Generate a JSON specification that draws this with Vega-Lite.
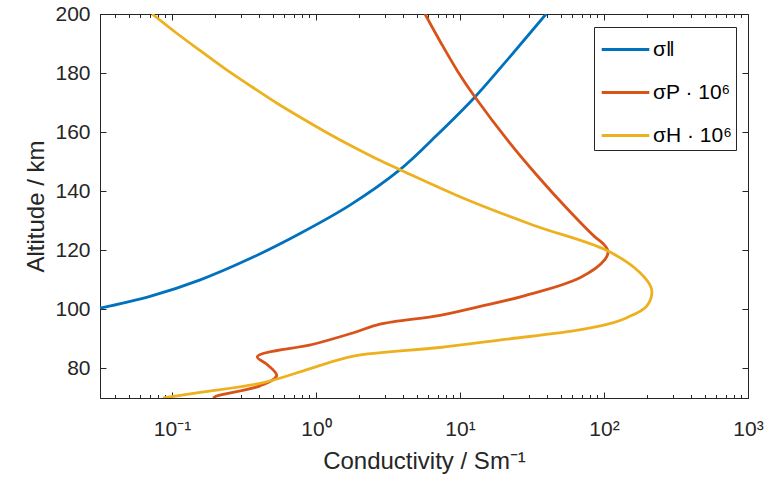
{
  "$schema": "https://vega.github.io/schema/vega-lite/v6.json",
  "width": 648,
  "height": 384,
  "autosize": {"type": "none"},
  "padding": {"left": 100, "top": 14, "right": 24, "bottom": 85},
  "background": "white",
  "config": {
    "font": "Liberation Sans",
    "view": {"stroke": "#262626", "strokeWidth": 1},
    "axis": {
      "domainColor": "#262626",
      "domainWidth": 1,
      "tickColor": "#262626",
      "labelColor": "#262626",
      "titleColor": "#262626",
      "labelFont": "Liberation Sans",
      "titleFont": "Liberation Sans",
      "labelFontSize": 21,
      "titleFontSize": 24,
      "titleFontWeight": "normal",
      "grid": false
    }
  },
  "data": {
    "values": [
      {"s": "σ‖", "i": 0, "x": 0.0316, "alt": 100.4},
      {"s": "σ‖", "i": 1, "x": 0.0703, "alt": 104.4},
      {"s": "σ‖", "i": 2, "x": 0.157, "alt": 110.0},
      {"s": "σ‖", "i": 3, "x": 0.348, "alt": 117.2},
      {"s": "σ‖", "i": 4, "x": 0.774, "alt": 125.7},
      {"s": "σ‖", "i": 5, "x": 1.72, "alt": 135.3},
      {"s": "σ‖", "i": 6, "x": 3.83, "alt": 147.3},
      {"s": "σ‖", "i": 7, "x": 6.92, "alt": 159.0},
      {"s": "σ‖", "i": 8, "x": 12.7, "alt": 171.9},
      {"s": "σ‖", "i": 9, "x": 22.2, "alt": 185.5},
      {"s": "σ‖", "i": 10, "x": 39.6, "alt": 200},

      {"s": "σP · 10⁶", "i": 0, "x": 5.71, "alt": 200},
      {"s": "σP · 10⁶", "i": 1, "x": 7.38, "alt": 190.2},
      {"s": "σP · 10⁶", "i": 2, "x": 9.69, "alt": 180.4},
      {"s": "σP · 10⁶", "i": 3, "x": 12.7, "alt": 171.9},
      {"s": "σP · 10⁶", "i": 4, "x": 22.2, "alt": 156.3},
      {"s": "σP · 10⁶", "i": 5, "x": 34.8, "alt": 145.0},
      {"s": "σP · 10⁶", "i": 6, "x": 56.2, "alt": 133.8},
      {"s": "σP · 10⁶", "i": 7, "x": 85.3, "alt": 124.8},
      {"s": "σP · 10⁶", "i": 8, "x": 98.4, "alt": 122.3},
      {"s": "σP · 10⁶", "i": 9, "x": 106.6, "alt": 119.7},
      {"s": "σP · 10⁶", "i": 10, "x": 101.6, "alt": 116.9},
      {"s": "σP · 10⁶", "i": 11, "x": 68.1, "alt": 110.7},
      {"s": "σP · 10⁶", "i": 12, "x": 27.5, "alt": 104.5},
      {"s": "σP · 10⁶", "i": 13, "x": 13.8, "alt": 101.0},
      {"s": "σP · 10⁶", "i": 14, "x": 7.26, "alt": 98.0},
      {"s": "σP · 10⁶", "i": 15, "x": 2.78, "alt": 95.0},
      {"s": "σP · 10⁶", "i": 16, "x": 1.82, "alt": 92.1},
      {"s": "σP · 10⁶", "i": 17, "x": 0.958, "alt": 88.2},
      {"s": "σP · 10⁶", "i": 18, "x": 0.391, "alt": 84.0},
      {"s": "σP · 10⁶", "i": 19, "x": 0.464, "alt": 81.1},
      {"s": "σP · 10⁶", "i": 20, "x": 0.533, "alt": 77.5},
      {"s": "σP · 10⁶", "i": 21, "x": 0.408, "alt": 74.1},
      {"s": "σP · 10⁶", "i": 22, "x": 0.204, "alt": 70.7},
      {"s": "σP · 10⁶", "i": 23, "x": 0.193, "alt": 70.0},

      {"s": "σH · 10⁶", "i": 0, "x": 0.0727, "alt": 200},
      {"s": "σH · 10⁶", "i": 1, "x": 0.1083, "alt": 193.4},
      {"s": "σH · 10⁶", "i": 2, "x": 0.157, "alt": 187.6},
      {"s": "σH · 10⁶", "i": 3, "x": 0.241, "alt": 181.0},
      {"s": "σH · 10⁶", "i": 4, "x": 0.360, "alt": 175.3},
      {"s": "σH · 10⁶", "i": 5, "x": 0.536, "alt": 169.8},
      {"s": "σH · 10⁶", "i": 6, "x": 0.799, "alt": 164.7},
      {"s": "σH · 10⁶", "i": 7, "x": 1.192, "alt": 159.8},
      {"s": "σH · 10⁶", "i": 8, "x": 1.778, "alt": 155.2},
      {"s": "σH · 10⁶", "i": 9, "x": 2.65, "alt": 150.9},
      {"s": "σH · 10⁶", "i": 10, "x": 3.83, "alt": 147.3},
      {"s": "σH · 10⁶", "i": 11, "x": 11.1, "alt": 137.2},
      {"s": "σH · 10⁶", "i": 12, "x": 32.3, "alt": 128.5},
      {"s": "σH · 10⁶", "i": 13, "x": 105, "alt": 119.9},
      {"s": "σH · 10⁶", "i": 14, "x": 178, "alt": 112.4},
      {"s": "σH · 10⁶", "i": 15, "x": 214, "alt": 106.8},
      {"s": "σH · 10⁶", "i": 16, "x": 198, "alt": 101.1},
      {"s": "σH · 10⁶", "i": 17, "x": 144, "alt": 97.2},
      {"s": "σH · 10⁶", "i": 18, "x": 104.5, "alt": 94.9},
      {"s": "σH · 10⁶", "i": 19, "x": 61.2, "alt": 92.7},
      {"s": "σH · 10⁶", "i": 20, "x": 21.1, "alt": 89.9},
      {"s": "σH · 10⁶", "i": 21, "x": 7.26, "alt": 87.1},
      {"s": "σH · 10⁶", "i": 22, "x": 1.82, "alt": 84.2},
      {"s": "σH · 10⁶", "i": 23, "x": 0.958, "alt": 80.3},
      {"s": "σH · 10⁶", "i": 24, "x": 0.431, "alt": 75.2},
      {"s": "σH · 10⁶", "i": 25, "x": 0.157, "alt": 71.9},
      {"s": "σH · 10⁶", "i": 26, "x": 0.0866, "alt": 70.0}
    ]
  },
  "layer": [
    {
      "mark": {"type": "line", "strokeWidth": 2.8, "interpolate": "catmull-rom", "clip": true},
      "encoding": {
        "x": {
          "field": "x",
          "type": "quantitative",
          "scale": {"type": "log", "domain": [0.0316, 1000], "nice": false},
          "axis": {
            "orient": "bottom",
            "title": "Conductivity / Sm⁻¹",
            "titlePadding": 8,
            "values": [0.04, 0.05, 0.06, 0.07, 0.08, 0.09, 0.1, 0.2, 0.3, 0.4, 0.5, 0.6, 0.7, 0.8, 0.9, 1, 2, 3, 4, 5, 6, 7, 8, 9, 10, 20, 30, 40, 50, 60, 70, 80, 90, 100, 200, 300, 400, 500, 600, 700, 800, 900, 1000],
            "labelExpr": "datum.value == 0.1 ? '10⁻¹' : datum.value == 1 ? '10⁰' : datum.value == 10 ? '10¹' : datum.value == 100 ? '10²' : datum.value == 1000 ? '10³' : ''",
            "labelOverlap": false,
            "labelFlush": false,
            "labelPadding": 26,
            "tickSize": {"condition": {"test": "indexof([0.1, 1, 10, 100, 1000], datum.value) >= 0", "value": -6}, "value": -3.5}
          }
        },
        "y": {
          "field": "alt",
          "type": "quantitative",
          "scale": {"domain": [70, 200], "nice": false, "zero": false},
          "axis": {
            "orient": "left",
            "title": "Altitude / km",
            "titlePadding": 6,
            "values": [80, 100, 120, 140, 160, 180, 200],
            "labelPadding": 16,
            "labelFlush": false,
            "tickSize": -6
          }
        },
        "color": {
          "field": "s",
          "type": "nominal",
          "scale": {"domain": ["σ‖", "σP · 10⁶", "σH · 10⁶"], "range": ["#0072BD", "#D95319", "#EDB120"]},
          "legend": {
            "title": null,
            "orient": "none",
            "legendX": 494,
            "legendY": 13,
            "strokeColor": "#262626",
            "fillColor": "white",
            "padding": 4,
            "symbolOffset": 9,
            "symbolType": "M-1.4,0H1.4",
            "symbolSize": 1156,
            "symbolStrokeWidth": 3,
            "symbolFillColor": "transparent",
            "labelFont": "Liberation Sans",
            "labelFontSize": 21,
            "labelColor": "#000000",
            "labelOffset": 9,
            "rowPadding": 14,
            "encode": {
              "symbols": {"update": {"stroke": {"scale": "color", "field": "value"}}}
            }
          }
        },
        "order": {"field": "i", "type": "quantitative"}
      }
    },
    {
      "mark": {"type": "point", "opacity": 0},
      "encoding": {
        "x": {
          "field": "x",
          "type": "quantitative",
          "axis": {
            "orient": "top",
            "title": null,
            "labels": false,
            "values": [0.04, 0.05, 0.06, 0.07, 0.08, 0.09, 0.1, 0.2, 0.3, 0.4, 0.5, 0.6, 0.7, 0.8, 0.9, 1, 2, 3, 4, 5, 6, 7, 8, 9, 10, 20, 30, 40, 50, 60, 70, 80, 90, 100, 200, 300, 400, 500, 600, 700, 800, 900, 1000],
            "tickSize": {"condition": {"test": "indexof([0.1, 1, 10, 100, 1000], datum.value) >= 0", "value": -6}, "value": -3.5}
          }
        },
        "y": {
          "field": "alt",
          "type": "quantitative",
          "axis": {
            "orient": "right",
            "title": null,
            "labels": false,
            "values": [80, 100, 120, 140, 160, 180, 200],
            "tickSize": -6
          }
        }
      }
    }
  ],
  "resolve": {"axis": {"x": "independent", "y": "independent"}}
}
